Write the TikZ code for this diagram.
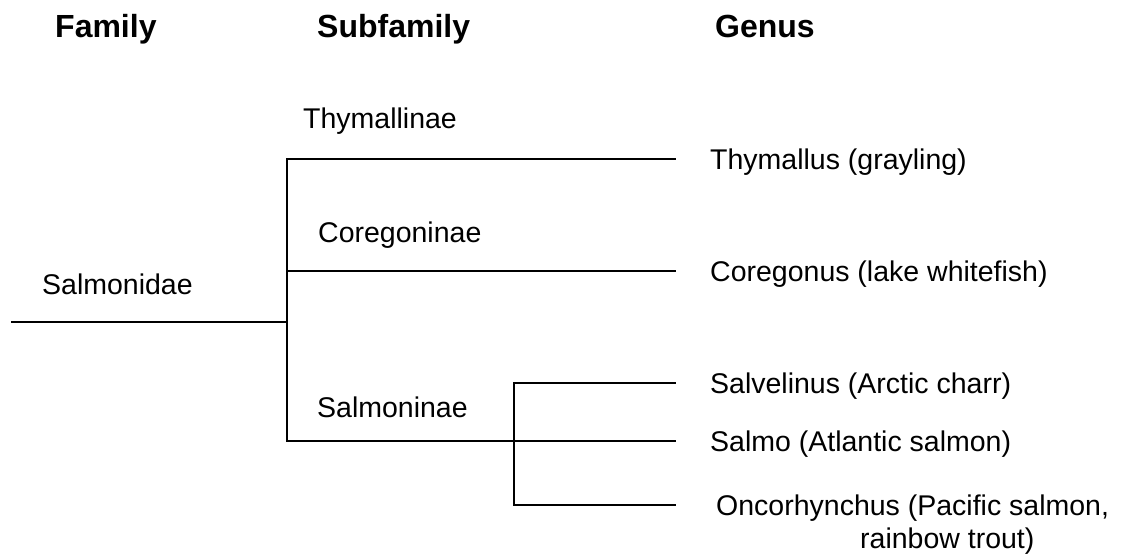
\documentclass[tikz,border=0pt]{standalone}
\usepackage{fontspec}
\setmainfont{Liberation Sans}
\tikzset{
  head/.style={anchor=base west, inner sep=0pt, font={\fontsize{32}{36}\selectfont\bfseries}},
  lab/.style={anchor=base west, inner sep=0pt},
  branch/.style={line width=2.3pt}
}
\begin{document}
\begin{tikzpicture}[x=1pt, y=-1pt, line join=miter, line cap=rect, font={\fontsize{28.5}{31}\selectfont}]
\useasboundingbox (0,0) rectangle (1128,559);
\path
  (12,322) coordinate (R)
  (287,322) coordinate (S)
  (287,159) coordinate (T0)
  (675,159) coordinate (T)
  (287,271) coordinate (C0)
  (675,271) coordinate (C)
  (287,441) coordinate (M0)
  (675,441) coordinate (M)
  (514,383) coordinate (V0)
  (675,383) coordinate (V)
  (514,505) coordinate (O0)
  (675,505) coordinate (O)
  ;
\draw[branch] (R) -- (S);
\draw[branch] (T) -- (T0) -- (M0) -- (M);
\draw[branch] (C0) -- (C);
\draw[branch] (V) -- (V0) -- (O0) -- (O);
\node[head] (family) at (55,38) {Family};
\node[head] (subfamily) at (317,38) {Subfamily};
\node[head] (genus) at (715,38) {Genus};
\node[lab] (salmonidae) at (42,294) {Salmonidae};
\node[lab] (thymallinae) at (303,129) {Thymallinae};
\node[lab] (coregoninae) at (318,243) {Coregoninae};
\node[lab] (salmoninae) at (317,417) {Salmoninae};
\node[lab] (thymallus) at (710,169.5) {Thymallus (grayling)};
\node[lab] (coregonus) at (710,281.5) {Coregonus (lake whitefish)};
\node[lab] (salvelinus) at (710,393.5) {Salvelinus (Arctic charr)};
\node[lab] (salmo) at (710,451.5) {Salmo (Atlantic salmon)};
\node[lab] (oncorhynchus) at (716,515.5) {Oncorhynchus (Pacific salmon,};
\node[lab] (trout) at (860,548) {rainbow trout)};
\end{tikzpicture}
\end{document}
